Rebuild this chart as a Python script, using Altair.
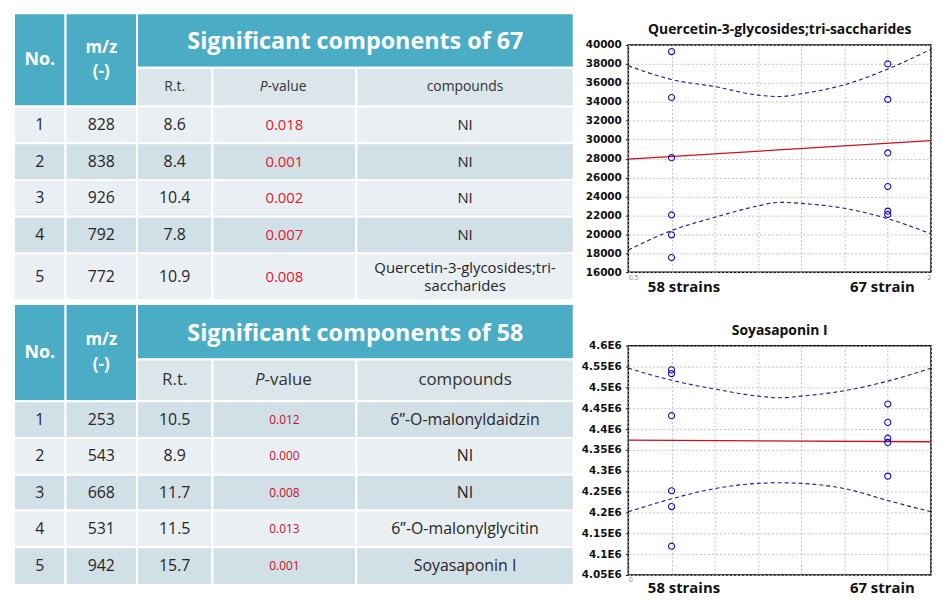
import altair as alt
import pandas as pd

# ---------------- table values ----------------
T1_TITLE = "Significant components of 67"
T1_NO = ["1", "2", "3", "4", "5"]
T1_MZ = ["828", "838", "926", "792", "772"]
T1_RT = ["8.6", "8.4", "10.4", "7.8", "10.9"]
T1_P = ["0.018", "0.001", "0.002", "0.007", "0.008"]
T1_COMP = ["NI", "NI", "NI", "NI", "Quercetin-3-glycosides;tri-\nsaccharides"]

T2_TITLE = "Significant components of 58"
T2_NO = ["1", "2", "3", "4", "5"]
T2_MZ = ["253", "543", "668", "531", "942"]
T2_RT = ["10.5", "8.9", "11.7", "11.5", "15.7"]
T2_P = ["0.012", "0.000", "0.008", "0.013", "0.001"]
T2_COMP = ["6\u201d-O-malonyldaidzin", "NI", "NI", "6\u201d-O-malonylglycitin", "Soyasaponin I"]

HEAD_NO = "No."
HEAD_MZ = ["m/z", "(-)"]
HEAD_RT = "R.t."
HEAD_P = ["P", "-value"]
HEAD_COMP = "compounds"

# ---------------- scatter values ----------------
GROUP_LABELS = ["58 strains", "67 strain"]
X_END_LABELS_Q = ["0.5", "2"]
X_END_LABELS_S = ["0", ""]

Q_TITLE = "Quercetin-3-glycosides;tri-saccharides"
Q_Y58 = [39300, 34450, 28100, 22050, 19950, 17550]
Q_Y67 = [38000, 34250, 28600, 25050, 22450, 22100]
Q_FIT = [27950, 29900]
Q_UPPER = [37800, 36350, 35600, 34700, 34550, 34850, 35800, 37450, 39550]
Q_LOWER = [18350, 20400, 21800, 23000, 23380, 23270, 22750, 21650, 20050]
Q_TICKS = [16000, 18000, 20000, 22000, 24000, 26000, 28000, 30000,
           32000, 34000, 36000, 38000, 40000]

S_TITLE = "Soyasaponin I"
S_Y58 = [4542000, 4533000, 4432000, 4252000, 4214000, 4119000]
S_Y67 = [4460000, 4416000, 4378000, 4368000, 4287000]
S_FIT = [4373300, 4369500]
S_UPPER = [4546000, 4517000, 4496000, 4479000, 4475000, 4479000, 4492000, 4515000, 4546000]
S_LOWER = [4201500, 4232600, 4257200, 4269700, 4271100, 4269700, 4257200, 4228600, 4201500]
S_TICKS = [4050000, 4100000, 4150000, 4200000, 4250000, 4300000, 4350000,
           4400000, 4450000, 4500000, 4550000, 4600000]

# x positions on the scatter axis (grid units)
GROUP_X = [1, 6]
FIT_X = [0, 7]
BAND_X = [0, 1, 2, 3, 3.5, 4, 5, 6, 7]
X_TICKS = [0, 1, 2, 3, 4, 5, 6, 7]

# ---------------- layout / style ----------------
FONT = "Open Sans"
TEAL = "#4bacc6"
SUB_BG = "#dbe6eb"
ROW_LIGHT = "#e9eff2"
ROW_DARK = "#d1dfe6"
TXT = "#262626"
COL_EDGES = [0, 52, 124, 200, 345, 564]
T_W = 564
T1_ROWS = [0, 55, 94, 131, 168, 205, 242, 289]
T2_ROWS = [0, 56, 98, 135, 172, 208, 245, 283]


def mid(a, b):
    return (a + b) / 2.0


def table_chart(no, mz, rt, pv, comp, title, rows, first_dark, st):
    H = rows[-1]
    cells = []
    cells.append((COL_EDGES[0], COL_EDGES[1], rows[0], rows[2], TEAL))
    cells.append((COL_EDGES[1], COL_EDGES[2], rows[0], rows[2], TEAL))
    cells.append((COL_EDGES[2], COL_EDGES[5], rows[0], rows[1], TEAL))
    for c in range(2, 5):
        cells.append((COL_EDGES[c], COL_EDGES[c + 1], rows[1], rows[2], SUB_BG))
    for r in range(5):
        dark = (r % 2 == 0) == first_dark
        fill = ROW_DARK if dark else ROW_LIGHT
        for c in range(5):
            cells.append((COL_EDGES[c], COL_EDGES[c + 1], rows[r + 2], rows[r + 3], fill))
    cdf = pd.DataFrame(cells, columns=["x0", "x1", "y0", "y1", "fill"])

    xs = alt.Scale(domain=[0, T_W], nice=False, zero=False)
    ys = alt.Scale(domain=[0, H], nice=False, zero=False, reverse=True)

    def X(f):
        return alt.X(f, type="quantitative", scale=xs, axis=None)

    def Y(f):
        return alt.Y(f, type="quantitative", scale=ys, axis=None)

    rect = alt.Chart(cdf).mark_rect(stroke="white", strokeWidth=2).encode(
        x=X("x0"), x2="x1", y=Y("y0"), y2="y1",
        fill=alt.Fill("fill:N", scale=None))

    cx = [mid(COL_EDGES[c], COL_EDGES[c + 1]) for c in range(5)]
    hmid = mid(rows[0], rows[2])

    head = pd.DataFrame({
        "x": [cx[0], cx[1], cx[1], mid(COL_EDGES[2], COL_EDGES[5])],
        "y": [hmid, hmid - st["mz_dy"], hmid + st["mz_dy"], mid(rows[0], rows[1]) + 2],
        "t": [HEAD_NO, HEAD_MZ[0], HEAD_MZ[1], title],
        "s": [18, 17, 17, st["title_size"]],
    })
    head_l = alt.Chart(head).mark_text(font=FONT, fontWeight="bold", color="white",
                                       baseline="middle").encode(
        x=X("x"), y=Y("y"), text="t:N", size=alt.Size("s:Q", scale=None))

    sy = mid(rows[1], rows[2])
    sub = pd.DataFrame({"x": [cx[2], cx[4]], "y": [sy, sy], "t": [HEAD_RT, HEAD_COMP]})
    sub_l = alt.Chart(sub).mark_text(font=FONT, color="#333333", baseline="middle",
                                     fontSize=st["sub_size"]).encode(
        x=X("x"), y=Y("y"), text="t:N")
    psplit = cx[3] - st["p_split"]
    p1 = alt.Chart(pd.DataFrame({"x": [psplit], "y": [sy], "t": [HEAD_P[0]]})).mark_text(
        font=FONT, color="#333333", baseline="middle", align="right", fontStyle="italic",
        fontSize=st["sub_size"]).encode(x=X("x"), y=Y("y"), text="t:N")
    p2 = alt.Chart(pd.DataFrame({"x": [psplit], "y": [sy], "t": [HEAD_P[1]]})).mark_text(
        font=FONT, color="#333333", baseline="middle", align="left",
        fontSize=st["sub_size"]).encode(x=X("x"), y=Y("y"), text="t:N")

    lh = st["comp_size"] + 3
    recs = []
    for r in range(5):
        y = mid(rows[r + 2], rows[r + 3])
        recs.append((cx[0], y, no[r], st["data_size"]))
        recs.append((cx[1], y, mz[r], st["data_size"]))
        recs.append((cx[2], y, rt[r], st["data_size"]))
        nlines = comp[r].count("\n") + 1
        recs.append((cx[4], y - (nlines - 1) * lh / 2.0, comp[r], st["comp_size"]))
    ddf = pd.DataFrame(recs, columns=["x", "y", "t", "s"])
    data_l = alt.Chart(ddf).mark_text(font=FONT, color=TXT, baseline="middle",
                                      lineBreak="\n", lineHeight=lh).encode(
        x=X("x"), y=Y("y"), text="t:N", size=alt.Size("s:Q", scale=None))

    pdf = pd.DataFrame({"x": [cx[3]] * 5,
                        "y": [mid(rows[r + 2], rows[r + 3]) for r in range(5)],
                        "t": pv})
    p_l = alt.Chart(pdf).mark_text(font=FONT, color=st["p_color"], baseline="middle",
                                   fontSize=st["p_size"], fontWeight=st["p_weight"]).encode(
        x=X("x"), y=Y("y"), text="t:N")

    return alt.layer(rect, head_l, sub_l, p1, p2, data_l, p_l).properties(width=T_W, height=H)


def cond(test, a, b):
    return {"condition": {"test": test, "value": a}, "value": b}


def scatter(title, y58, y67, fit_y, up_y, lo_y, ydom, yticks, ylabel_expr, end_labels, h, pad):
    big = "datum.value == %d || datum.value == %d" % (GROUP_X[0], GROUP_X[1])
    xlabel_expr = ("datum.value == %d ? '%s' : datum.value == %d ? '%s' : "
                   "datum.value == 0 ? '%s' : datum.value == 7 ? '%s' : ''") % (
        GROUP_X[0], GROUP_LABELS[0], GROUP_X[1], GROUP_LABELS[1], end_labels[0], end_labels[1])
    label_offset = {"condition": [
        {"test": "datum.value == %d" % GROUP_X[0], "value": 12},
        {"test": "datum.value == %d" % GROUP_X[1], "value": -6}], "value": 0}
    xaxis = alt.Axis(values=X_TICKS, labelExpr=xlabel_expr, title=None, grid=True,
                     gridColor="#c4c4c4", gridDash=[2, 2], domain=False, ticks=False,
                     labelFlush=True, labelOverlap=False, labelFont=FONT,
                     labelFontSize=cond(big, 15, 7),
                     labelFontWeight=cond(big, "bold", "normal"),
                     labelColor=cond(big, "#111111", "#888888"),
                     labelPadding=cond(big, pad, 1),
                     labelOffset=label_offset)
    yaxis = alt.Axis(values=yticks, labelExpr=ylabel_expr, title=None, grid=True,
                     gridColor="#c4c4c4", gridDash=[2, 2], domain=False, tickSize=3,
                     tickColor="#222222", labelFont="DejaVu Sans", labelFontSize=10.5,
                     labelFontWeight="bold", labelColor="#111111", labelPadding=4,
                     minExtent=45, maxExtent=45, labelOverlap=False)
    xs = alt.Scale(domain=[X_TICKS[0], X_TICKS[-1]], nice=False, zero=False)
    ys = alt.Scale(domain=ydom, nice=False, zero=False)
    X = alt.X("x:Q", scale=xs, axis=xaxis)
    Y = alt.Y("y:Q", scale=ys, axis=yaxis)

    band = pd.DataFrame({"x": BAND_X + BAND_X, "y": up_y + lo_y,
                         "b": ["upper"] * len(BAND_X) + ["lower"] * len(BAND_X)})
    fit = pd.DataFrame({"x": FIT_X, "y": fit_y})
    pts = pd.DataFrame({"x": [GROUP_X[0]] * len(y58) + [GROUP_X[1]] * len(y67),
                        "y": y58 + y67})

    band_l = alt.Chart(band).mark_line(color="#1a1a8a", strokeWidth=1.1,
                                       strokeDash=[4, 3], interpolate="monotone").encode(
        x=X, y=Y, detail="b:N")
    fit_l = alt.Chart(fit).mark_line(color="#cc1020", strokeWidth=1.3).encode(x=X, y=Y)
    pts_l = alt.Chart(pts).mark_point(shape="circle", filled=False, color="#1010b8",
                                      size=38, strokeWidth=1.1, opacity=1).encode(x=X, y=Y)

    return alt.layer(band_l, fit_l, pts_l).properties(
        width=305, height=h,
        title=alt.TitleParams(title, fontSize=14, fontWeight="bold", font=FONT,
                              color="#111111", offset=3, anchor="middle"),
        view=alt.ViewBackground(stroke="#000000", strokeWidth=1.5))


style1 = {"mz_dy": 12, "title_size": 23.5, "sub_size": 14, "p_split": 17, "data_size": 16,
          "comp_size": 15, "p_color": "#e02030", "p_size": 15, "p_weight": "normal"}
style2 = {"mz_dy": 12.5, "title_size": 23.5, "sub_size": 17, "p_split": 20, "data_size": 16,
          "comp_size": 16, "p_color": "#c8102e", "p_size": 12, "p_weight": "normal"}

table1 = table_chart(T1_NO, T1_MZ, T1_RT, T1_P, T1_COMP, T1_TITLE, T1_ROWS, False, style1)
table2 = table_chart(T2_NO, T2_MZ, T2_RT, T2_P, T2_COMP, T2_TITLE, T2_ROWS, True, style2)

chart_q = scatter(Q_TITLE, Q_Y58, Q_Y67, Q_FIT, Q_UPPER, Q_LOWER, [16000, 40000], Q_TICKS,
                  "format(datum.value, 'd')", X_END_LABELS_Q, 229, 7)
chart_s = scatter(S_TITLE, S_Y58, S_Y67, S_FIT, S_UPPER, S_LOWER, [4050000, 4600000], S_TICKS,
                  "format(datum.value / 1000000, '.3~f') + 'E6'", X_END_LABELS_S, 231, 6)

spacer = alt.Chart(pd.DataFrame({"a": [0]})).mark_point(opacity=0, size=0).encode(
    x=alt.X("a:Q", axis=None), y=alt.Y("a:Q", axis=None)).properties(width=305, height=1)

left = alt.vconcat(table1, table2, spacing=0)
right = alt.vconcat(alt.vconcat(spacer, chart_q, spacing=7), chart_s, spacing=28)

chart = alt.hconcat(left, right, spacing=4).properties(
    padding={"left": 4, "top": 1, "right": 0, "bottom": 0},
    background="white",
).configure_view(stroke="transparent")

chart.save("out.html", embed_options={"renderer": "svg", "actions": False})
